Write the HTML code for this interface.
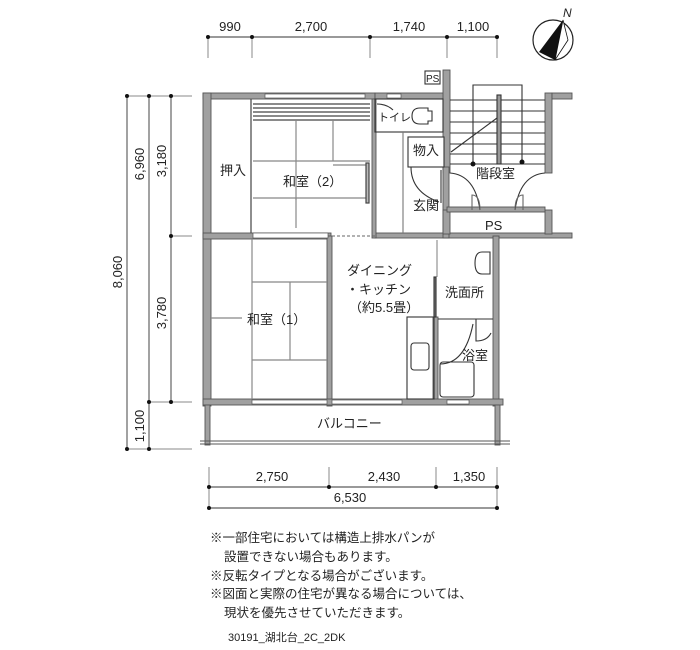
<!DOCTYPE html>
<html><head><meta charset="utf-8"><style>
html,body{margin:0;padding:0;background:#fff}
svg{display:block}
text{font-family:"Liberation Sans","Noto Sans CJK JP",sans-serif;fill:#222}
</style></head><body>
<svg width="700" height="650" viewBox="0 0 700 650" xmlns="http://www.w3.org/2000/svg">
<g stroke="#333" stroke-width="1">
<line x1="208" y1="37" x2="497" y2="37"/>
<line x1="208" y1="37" x2="208" y2="58" stroke="#888"/><line x1="252" y1="37" x2="252" y2="58" stroke="#888"/>
<line x1="370" y1="37" x2="370" y2="58" stroke="#888"/><line x1="447" y1="37" x2="447" y2="58" stroke="#888"/>
<line x1="497" y1="37" x2="497" y2="58" stroke="#888"/>
</g>
<g fill="#111"><circle cx="208" cy="37" r="2"/><circle cx="252" cy="37" r="2"/><circle cx="370" cy="37" r="2"/><circle cx="447" cy="37" r="2"/><circle cx="497" cy="37" r="2"/></g>
<g font-size="13" text-anchor="middle"><text x="230" y="31">990</text><text x="311" y="31">2,700</text><text x="409" y="31">1,740</text><text x="473" y="31">1,100</text></g>
<circle cx="553" cy="40" r="20" fill="#fff" stroke="#222" stroke-width="1.2"/>
<polygon points="563,20 539,52 555,60" fill="#111"/>
<polygon points="563,20 555,60 568,40" fill="#fff" stroke="#111" stroke-width="0.8"/>
<text x="563" y="17" font-size="12" font-style="italic">N</text>
<g stroke="#444" stroke-width="1">
<line x1="127" y1="96" x2="127" y2="449"/><line x1="149" y1="96" x2="149" y2="449"/><line x1="171" y1="96" x2="171" y2="402"/>
<line x1="127" y1="96" x2="192" y2="96" stroke="#888"/><line x1="171" y1="236" x2="192" y2="236" stroke="#888"/>
<line x1="149" y1="402" x2="192" y2="402" stroke="#888"/><line x1="127" y1="449" x2="192" y2="449" stroke="#888"/>
</g>
<g fill="#111"><circle cx="127" cy="96" r="2"/><circle cx="149" cy="96" r="2"/><circle cx="171" cy="96" r="2"/><circle cx="171" cy="236" r="2"/><circle cx="149" cy="402" r="2"/><circle cx="171" cy="402" r="2"/><circle cx="127" cy="449" r="2"/><circle cx="149" cy="449" r="2"/></g>
<g font-size="13" text-anchor="middle">
<text transform="translate(122,272) rotate(-90)">8,060</text>
<text transform="translate(144,164) rotate(-90)">6,960</text>
<text transform="translate(166,161) rotate(-90)">3,180</text>
<text transform="translate(166,313) rotate(-90)">3,780</text>
<text transform="translate(144,426) rotate(-90)">1,100</text>
</g>
<g fill="#a0a0a0" stroke="#555" stroke-width="0.9">
<rect x="203" y="93" width="172" height="6"/>
<rect x="375" y="93" width="72" height="6"/>
<rect x="443" y="70" width="7" height="103"/>
<rect x="545" y="93" width="7" height="80"/>
<rect x="552" y="93" width="20" height="6"/>
<rect x="203" y="93" width="8" height="313"/>
<rect x="203" y="233" width="128" height="6"/>
<rect x="375" y="233" width="197" height="5"/>
<rect x="327" y="236" width="5" height="170"/>
<rect x="372" y="99" width="4" height="139"/>
<rect x="443" y="167" width="6" height="71"/>
<rect x="443" y="210" width="7" height="24"/>
<rect x="545" y="210" width="7" height="24"/>
<rect x="493" y="236" width="6" height="170"/>
<rect x="433" y="317" width="5" height="85"/>
<rect x="203" y="399" width="300" height="6"/>
<rect x="205" y="405" width="5" height="40"/>
<rect x="495" y="405" width="5" height="40"/>
<rect x="447" y="207" width="98" height="5"/>
</g>
<g fill="#fff" stroke="#555" stroke-width="0.7">
<rect x="265" y="94" width="100" height="4"/><rect x="387" y="94" width="14" height="4"/>
<rect x="253" y="233" width="75" height="5"/>
<rect x="252" y="400" width="75" height="4"/><rect x="332" y="400" width="70" height="4"/>
<rect x="447" y="400" width="22" height="4"/>
</g>
<line x1="332" y1="236" x2="375" y2="236" stroke="#666" stroke-dasharray="3,2"/>
<line x1="200" y1="441" x2="510" y2="441" stroke="#555"/><line x1="200" y1="444" x2="510" y2="444" stroke="#555"/>
<g stroke="#444" stroke-width="1.2" fill="none">
<line x1="251" y1="99" x2="251" y2="233"/>
<line x1="253" y1="104" x2="370" y2="104"/><line x1="253" y1="108" x2="370" y2="108"/><line x1="253" y1="112" x2="370" y2="112"/><line x1="253" y1="116" x2="370" y2="116"/><line x1="253" y1="120" x2="370" y2="120"/>
<line x1="253" y1="161" x2="370" y2="161" stroke="#888"/>
<line x1="296" y1="120" x2="296" y2="200" stroke="#888"/><line x1="333" y1="120" x2="333" y2="161" stroke="#888"/>
<line x1="333" y1="165" x2="366" y2="165" stroke="#888"/>
<line x1="253" y1="198" x2="366" y2="198" stroke="#888"/><line x1="296" y1="198" x2="296" y2="228" stroke="#888"/>
<rect x="366" y="163" width="3" height="40" fill="#bbb"/>
</g>
<g stroke="#888" stroke-width="1.2" fill="none">
<line x1="252" y1="239" x2="252" y2="399"/><line x1="252" y1="282" x2="327" y2="282"/>
<line x1="290" y1="282" x2="290" y2="360"/><line x1="252" y1="360" x2="327" y2="360"/>
<line x1="211" y1="318" x2="242" y2="318"/>
</g>
<g stroke="#333" stroke-width="1.1" fill="none">
<rect x="375" y="99" width="68" height="33"/>
<path d="M420 108 q-8 0 -8 8 q0 8 8 8 h8 v-3 h4 v-10 h-4 v-3 z"/>
<path d="M377 104 q10 0 16 6"/>
<line x1="403" y1="132" x2="403" y2="233" stroke="#777"/>
<rect x="408" y="137" width="36" height="30" fill="#fff"/>
<path d="M411 167 q0 25 28 35"/>
<line x1="441" y1="170" x2="441" y2="203"/>
<line x1="450" y1="100" x2="545" y2="100"/><line x1="450" y1="111" x2="545" y2="111"/><line x1="450" y1="122" x2="545" y2="122"/><line x1="450" y1="133" x2="545" y2="133"/><line x1="450" y1="144" x2="545" y2="144"/><line x1="450" y1="154" x2="545" y2="154"/><line x1="450" y1="164" x2="545" y2="164"/>
<rect x="497" y="95" width="4" height="69" fill="#999"/>
<polyline points="473,164 473,85 522,85 522,162"/>
<line x1="451" y1="152" x2="497" y2="118"/>
<path d="M450 173 q25 2 30 37 M545 173 q-25 2 -30 37"/>
<path d="M472 210 v-15 q8 0 8 15 M523 210 v-15 q-8 0 -8 15" stroke="#666"/>
<rect x="425" y="71" width="15" height="13" fill="#fff"/>
<path d="M490 252 h-8 q-7 0 -7 11 q0 11 7 11 h8 z"/>
<line x1="437" y1="240" x2="437" y2="277" stroke="#888"/>
<rect x="434" y="277" width="2" height="40" fill="#777"/>
<line x1="438" y1="319" x2="493" y2="319"/>
<path d="M440 364 q25 0 33 -40 M476 319 v22 q11 0 15 -8"/>
<rect x="440" y="362" width="34" height="35" rx="3"/>
<rect x="407" y="317" width="27" height="82"/>
<rect x="411" y="343" width="18" height="27" rx="3"/>
</g>
<circle cx="473" cy="164" r="2.5" fill="#111"/><circle cx="522" cy="162" r="2.5" fill="#111"/>
<g font-size="13">
<text x="220" y="175">押入</text>
<text x="283" y="186">和室（2）</text>
<text x="247" y="324">和室（1）</text>
<text x="347" y="275">ダイニング</text>
<text x="346" y="294">・キッチン</text>
<text x="349" y="312">（約5.5畳）</text>
<text x="445" y="297">洗面所</text>
<text x="462" y="360">浴室</text>
<text x="317" y="428">バルコニー</text>
<text x="413" y="155">物入</text>
<text x="413" y="210">玄関</text>
<text x="476" y="178">階段室</text>
<text x="485" y="230">PS</text>
<text x="378" y="121" font-size="11">トイレ</text>
<text x="426" y="82" font-size="10">PS</text>
</g>
<g stroke="#333" stroke-width="1">
<line x1="209" y1="487" x2="497" y2="487"/><line x1="209" y1="508" x2="497" y2="508"/>
<line x1="209" y1="467" x2="209" y2="508" stroke="#888"/><line x1="329" y1="467" x2="329" y2="487" stroke="#888"/>
<line x1="436" y1="467" x2="436" y2="487" stroke="#888"/><line x1="497" y1="467" x2="497" y2="508" stroke="#888"/>
</g>
<g fill="#111"><circle cx="209" cy="487" r="2"/><circle cx="329" cy="487" r="2"/><circle cx="436" cy="487" r="2"/><circle cx="497" cy="487" r="2"/><circle cx="209" cy="508" r="2"/><circle cx="497" cy="508" r="2"/></g>
<g font-size="13" text-anchor="middle"><text x="272" y="481">2,750</text><text x="384" y="481">2,430</text><text x="469" y="481">1,350</text><text x="350" y="502">6,530</text></g>
<g font-size="12.5">
<text x="210" y="542">※一部住宅においては構造上排水パンが</text>
<text x="224" y="561">設置できない場合もあります。</text>
<text x="210" y="580">※反転タイプとなる場合がございます。</text>
<text x="210" y="598">※図面と実際の住宅が異なる場合については、</text>
<text x="224" y="617">現状を優先させていただきます。</text>
<text x="228" y="641" font-size="11">30191_湖北台_2C_2DK</text>
</g>
</svg>
</body></html>
